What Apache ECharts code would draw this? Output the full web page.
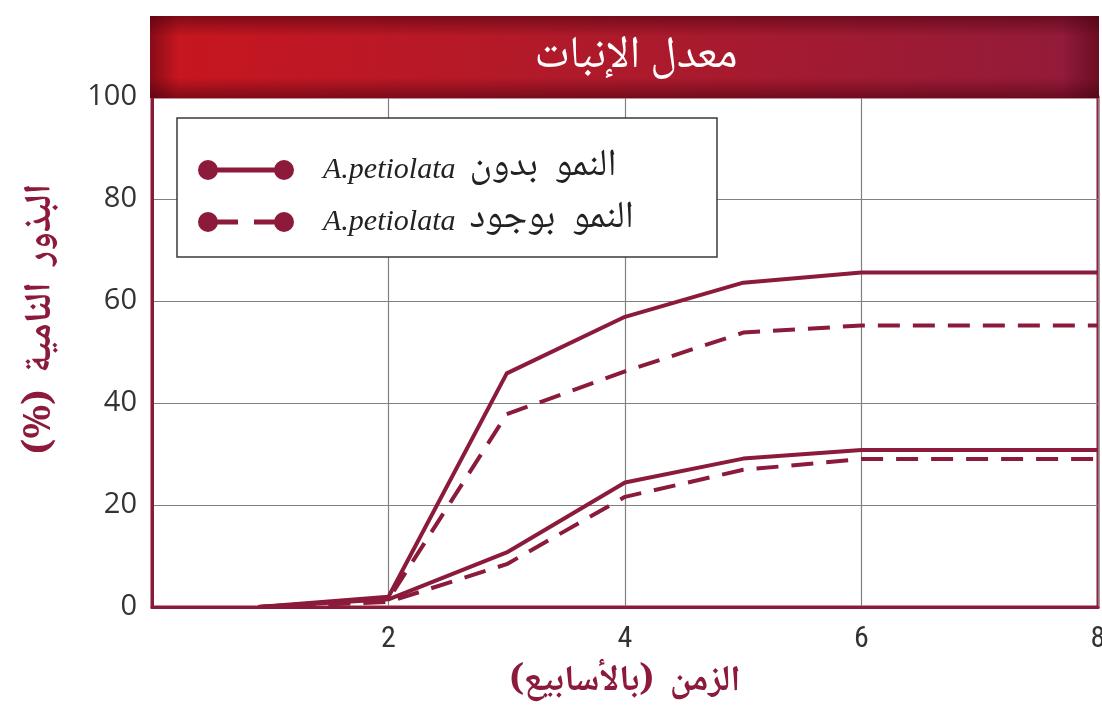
<!DOCTYPE html>
<html>
<head>
<meta charset="utf-8">
<script src="https://cdn.jsdelivr.net/npm/echarts@6/dist/echarts.min.js"></script>
<style>
  html, body { margin: 0; padding: 0; background: #ffffff; }
  #chart { width: 1102px; height: 722px; }
</style>
</head>
<body>
<div id="chart"></div>
<script>
// ---- data ----
const chartTitle = 'معدل الإنبات';
const xAxisName = 'الزمن (بالأسابيع)';
const yAxisName = 'البذور النامية (%)';
const nameWithout = 'النمو بدون A.petiolata';
const nameWith = 'النمو بوجود A.petiolata';
const weeks = [0.9, 2, 3, 4, 5, 6, 8];
const withoutHigh = [0, 2, 45.8, 56.9, 63.6, 65.6, 65.6];
const withHigh = [0, 1.5, 37.8, 46.2, 53.8, 55.2, 55.2];
const withoutLow = [0, 1.5, 10.7, 24.4, 29.1, 30.8, 30.8];
const withLow = [0, 1, 8.4, 21.6, 26.9, 29, 29];
const yTicks = [0, 20, 40, 60, 80, 100];
const xTicks = [0, 2, 4, 6, 8];

const maroon = '#8b1a3b';
const arabicFont = '"Noto Naskh Arabic", "Noto Sans Arabic", "DejaVu Sans", sans-serif';
const RLE = '\u202B', PDF = '\u202C';

function pairs(xs, ys) { return xs.map((x, i) => [x, ys[i]]); }
function widen(s, n) { return s.split(' ').join(' '.repeat(n)); }

const solidIcon = 'path://M0,10 A10,10 0 1,1 20,10 A10,10 0 1,1 0,10 Z M10,7.5 L86,7.5 L86,12.5 L10,12.5 Z M76,10 A10,10 0 1,1 96,10 A10,10 0 1,1 76,10 Z';
const dashIcon = 'path://M0,10 A10,10 0 1,1 20,10 A10,10 0 1,1 0,10 Z M10,7.5 L40,7.5 L40,12.5 L10,12.5 Z M56,7.5 L86,7.5 L86,12.5 L56,12.5 Z M76,10 A10,10 0 1,1 96,10 A10,10 0 1,1 76,10 Z';

function lineSeries(name, ys, dashed) {
  return {
    type: 'line',
    name: name,
    data: pairs(weeks, ys),
    showSymbol: false,
    symbol: 'none',
    color: maroon,
    lineStyle: { color: maroon, width: 4, type: dashed ? [22, 13] : 'solid', cap: 'butt', join: 'round' },
    z: 3
  };
}

const chart = echarts.init(document.getElementById('chart'), null, { renderer: 'canvas' });
chart.setOption({
  backgroundColor: '#ffffff',
  animation: false,
  grid: {
    left: 152, right: 4, top: 97, bottom: 115,
    outerBoundsMode: 'none', containLabel: false,
    show: true, borderColor: maroon, borderWidth: 3, backgroundColor: 'transparent'
  },
  xAxis: {
    type: 'value', min: xTicks[0], max: xTicks[xTicks.length - 1], interval: 2,
    name: RLE + widen(xAxisName, 2) + PDF, nameLocation: 'middle', nameGap: 60,
    nameTextStyle: { color: maroon, fontSize: 36, fontWeight: 'bold', fontFamily: arabicFont },
    axisLine: { show: true, lineStyle: { color: maroon, width: 3 } },
    axisTick: { show: false },
    axisLabel: {
      margin: 17, color: '#333333', fontSize: 30,
      fontFamily: '"Liberation Sans Narrow", "Roboto Condensed", "Liberation Sans", sans-serif',
      formatter: v => (v === 0 ? '' : String(v))
    },
    splitLine: { show: true, lineStyle: { color: '#808080', width: 1.2 } }
  },
  yAxis: {
    type: 'value', min: yTicks[0], max: yTicks[yTicks.length - 1], interval: 20,
    name: RLE + widen(yAxisName, 2) + PDF, nameLocation: 'middle', nameGap: 88, nameRotate: 90,
    nameTextStyle: { color: maroon, fontSize: 38, fontWeight: 'bold', fontFamily: arabicFont, padding: [0, 0, 0, 66] },
    axisLine: { show: true, lineStyle: { color: maroon, width: 3 } },
    axisTick: { show: false },
    axisLabel: { margin: 15, color: '#333333', fontSize: 29, fontFamily: '"Open Sans", "Noto Sans", sans-serif' },
    splitLine: { show: true, lineStyle: { color: '#808080', width: 1.2 } }
  },
  legend: {
    orient: 'vertical', left: 198, top: 151, padding: 0, itemGap: 14,
    itemWidth: 96, itemHeight: 20, z: 20,
    itemStyle: { color: maroon, borderWidth: 0 },
    data: [
      { name: nameWithout, icon: solidIcon },
      { name: nameWith, icon: dashIcon }
    ],
    formatter: function (name) {
      const parts = name.split(' A.petiolata');
      return '{it|A.petiolata}{ar|' + widen(parts[0], 2) + '}';
    },
    textStyle: {
      color: '#222222', lineHeight: 36,
      rich: {
        it: { fontFamily: '"Liberation Serif", "DejaVu Serif", serif', fontStyle: 'italic', fontSize: 30, color: '#222222', lineHeight: 36, padding: [0, 0, 0, 24] },
        ar: { fontFamily: arabicFont, fontSize: 38, color: '#222222', lineHeight: 36, padding: [0, 0, 0, 14] }
      }
    }
  },
  graphic: [
    {
      type: 'rect', z: 10,
      shape: { x: 177, y: 118, width: 540, height: 139 },
      style: { fill: '#ffffff', stroke: '#3a3a3a', lineWidth: 1.5 }
    },
    {
      type: 'rect', z: 10,
      shape: { x: 150, y: 16, width: 949, height: 82 },
      style: {
        fill: new echarts.graphic.LinearGradient(0, 0, 1, 0, [
          { offset: 0, color: '#c8161f' },
          { offset: 0.45, color: '#b01a2a' },
          { offset: 1, color: '#911b3a' }
        ])
      }
    },
    {
      type: 'rect', z: 11,
      shape: { x: 150, y: 16, width: 949, height: 82 },
      style: {
        fill: new echarts.graphic.LinearGradient(0, 0, 0, 1, [
          { offset: 0, color: 'rgba(70,0,15,0.55)' },
          { offset: 0.25, color: 'rgba(70,0,15,0)' },
          { offset: 0.75, color: 'rgba(70,0,15,0)' },
          { offset: 1, color: 'rgba(70,0,15,0.55)' }
        ])
      }
    },
    {
      type: 'rect', z: 11,
      shape: { x: 150, y: 16, width: 949, height: 82 },
      style: {
        fill: new echarts.graphic.LinearGradient(0, 0, 1, 0, [
          { offset: 0, color: 'rgba(70,0,15,0.5)' },
          { offset: 0.03, color: 'rgba(70,0,15,0)' },
          { offset: 0.96, color: 'rgba(70,0,15,0)' },
          { offset: 1, color: 'rgba(70,0,15,0.5)' }
        ])
      }
    },
    {
      type: 'text', z: 12,
      x: 636, y: 61,
      style: {
        text: chartTitle, fill: '#ffffff', fontSize: 45, fontFamily: arabicFont,
        align: 'center', verticalAlign: 'middle'
      }
    }
  ],
  series: [
    lineSeries(nameWithout, withoutHigh, false),
    lineSeries(nameWith, withHigh, true),
    lineSeries(nameWithout, withoutLow, false),
    lineSeries(nameWith, withLow, true)
  ]
});
</script>
</body>
</html>
